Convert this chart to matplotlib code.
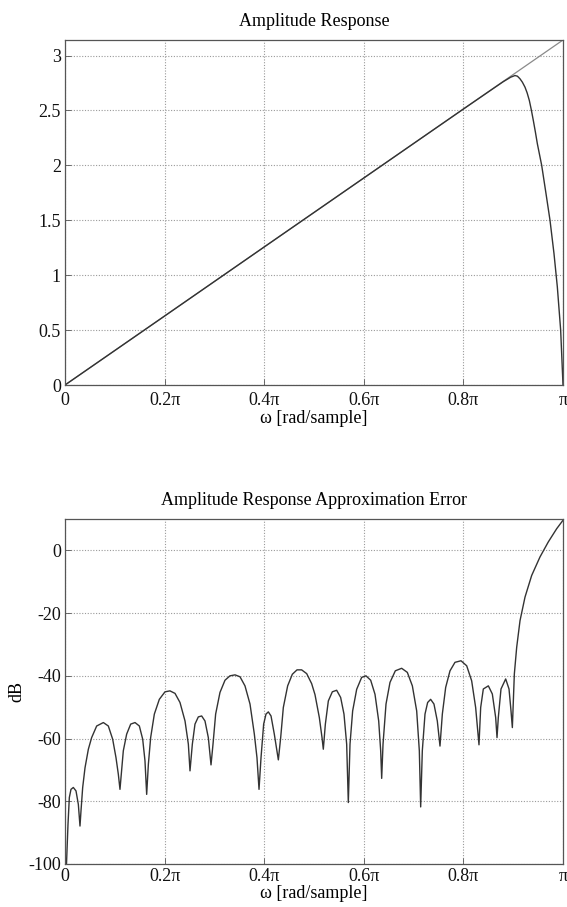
import matplotlib
matplotlib.use("Agg")
import matplotlib.pyplot as plt

plt.rcParams['font.family'] = ['Liberation Serif', 'DejaVu Serif']

# ---------------- data (omega in units of pi) ----------------
ideal_w = [0.0, 1.0]
ideal_a = [0.0, 3.1416]

resp_w = [0.0, 0.2, 0.4, 0.6, 0.8, 0.86, 0.88, 0.895, 0.9036, 0.9085, 0.9137,
          0.9185, 0.9237, 0.9280, 0.9324, 0.9364, 0.9404, 0.9445, 0.9485,
          0.9572, 0.9659, 0.9739, 0.9819, 0.9886, 0.9953, 0.9993, 1.0]
resp_a = [0.0, 0.628, 1.257, 1.885, 2.513, 2.700, 2.762, 2.803, 2.818, 2.812,
          2.788, 2.757, 2.712, 2.660, 2.591, 2.505, 2.409, 2.305, 2.197,
          2.000, 1.742, 1.500, 1.197, 0.894, 0.500, 0.076, 0.0]

err_w = [0.003, 0.006, 0.0087, 0.012, 0.0167, 0.0221, 0.0268, 0.0301, 0.0321,
         0.0355, 0.0402, 0.0469, 0.0535, 0.0636, 0.0770, 0.0870, 0.0957, 0.1024,
         0.1071, 0.1104, 0.1131, 0.1171, 0.1238, 0.1319, 0.1406, 0.1493, 0.1560,
         0.1606, 0.1640, 0.1674, 0.1720, 0.1794, 0.1894, 0.2008, 0.2108, 0.2209,
         0.2309, 0.2410, 0.2477, 0.2510, 0.2557, 0.2610, 0.2677, 0.2744, 0.2811,
         0.2878, 0.2932, 0.2972, 0.3025, 0.3112, 0.3213, 0.3313, 0.3414, 0.3514,
         0.3614, 0.3715, 0.3802, 0.3855, 0.3896, 0.3936, 0.3989, 0.4036, 0.4083,
         0.4137, 0.4203, 0.4284, 0.4331, 0.4384, 0.4471, 0.4565, 0.4659, 0.4752,
         0.4853, 0.4953, 0.5020, 0.5107, 0.5161, 0.5187, 0.5228, 0.5288, 0.5368,
         0.5455, 0.5535, 0.5602, 0.5656, 0.5689, 0.5723, 0.5776, 0.5857, 0.5957,
         0.6044, 0.6138, 0.6225, 0.6299, 0.6339, 0.6359, 0.6386, 0.6446, 0.6526,
         0.6633, 0.6760, 0.6874, 0.6975, 0.7062, 0.7115, 0.7142, 0.7175, 0.7229,
         0.7282, 0.7342, 0.7409, 0.7476, 0.7530, 0.7577, 0.7644, 0.7731, 0.7831,
         0.7952, 0.8066, 0.8166, 0.8246, 0.8313, 0.8347, 0.8400, 0.8501, 0.8581,
         0.8648, 0.8675, 0.8701, 0.8755, 0.8849, 0.8916, 0.8956, 0.8983, 0.9009,
         0.9023, 0.9070, 0.9137, 0.9237, 0.9371, 0.9538, 0.9705, 0.9873, 1.0]
err_db = [-100.0, -87.4, -78.8, -76.2, -75.6, -76.7, -81.0, -87.9, -83.1,
          -75.6, -69.3, -63.4, -59.7, -56.0, -54.9, -56.0, -60.2, -66.1,
          -71.4, -76.2, -71.4, -63.9, -58.6, -55.4, -54.9, -56.0, -60.2,
          -67.1, -77.8, -68.2, -59.7, -52.2, -47.5, -45.1, -44.8, -45.6,
          -48.5, -54.4, -61.8, -70.3, -61.8, -55.4, -53.1, -52.8, -54.4,
          -59.7, -68.4, -61.8, -52.2, -45.3, -41.4, -40.0, -39.7, -40.3,
          -43.2, -49.0, -58.6, -66.1, -76.2, -66.1, -55.4, -52.2, -51.5,
          -52.8, -58.6, -66.8, -59.7, -50.1, -43.2, -39.5, -38.1, -38.1,
          -39.3, -42.5, -46.0, -53.3, -59.7, -63.4, -55.4, -48.0, -45.1,
          -44.6, -46.9, -52.2, -61.8, -80.4, -61.8, -51.2, -44.3, -40.5,
          -40.0, -41.4, -45.9, -54.4, -63.9, -72.7, -61.8, -49.0, -42.1,
          -38.4, -37.6, -38.9, -43.2, -51.2, -63.9, -81.8, -63.9, -52.2,
          -48.5, -47.5, -49.0, -54.4, -62.4, -52.2, -43.7, -38.4, -35.7,
          -35.2, -36.8, -41.6, -50.1, -62.0, -50.1, -44.2, -43.2, -45.8,
          -53.3, -59.7, -53.3, -44.2, -41.0, -44.2, -51.2, -56.5, -45.8,
          -39.4, -30.9, -22.4, -14.9, -8.0, -2.1, 2.7, 6.9, 9.6]

x_ticks = [0, 0.2, 0.4, 0.6, 0.8, 1.0]
x_ticklabels = ['0', '0.2π', '0.4π', '0.6π', '0.8π', 'π']
top_yticks = [0, 0.5, 1, 1.5, 2, 2.5, 3]
top_yticklabels = ['0', '0.5', '1', '1.5', '2', '2.5', '3']
bot_yticks = [-100, -80, -60, -40, -20, 0]
bot_yticklabels = ['-100', '-80', '-60', '-40', '-20', '0']

# ---------------- figure ----------------
W, H = 567, 907
fig = plt.figure(figsize=(W / 100, H / 100), dpi=100)

L = 65 / W
AW = (563 - 65) / W
AH = 345 / H
ax1 = fig.add_axes([L, 1 - 385 / H, AW, AH])
ax2 = fig.add_axes([L, 1 - 864 / H, AW, AH])

FS = 13
curve_col = '#333333'

def style(ax, xpad):
    ax.grid(True, linestyle=(0, (1, 1.5)), color='#9a9a9a', linewidth=0.8)
    for s in ax.spines.values():
        s.set_color('#555555')
        s.set_linewidth(0.9)
    ax.tick_params(direction='in', length=4, width=0.6, colors='#555555',
                   labelcolor='#111111', labelsize=FS)
    ax.tick_params(axis='x', pad=xpad)
    ax.tick_params(axis='y', pad=3)
    ax.set_xticks(x_ticks)
    ax.set_xticklabels(x_ticklabels)
    ax.set_xlim(0, 1)
    ax.set_axisbelow(True)

style(ax1, 5)
ax1.plot(ideal_w, ideal_a, color='#8a8a8a', linewidth=0.9)
ax1.plot(resp_w, resp_a, color=curve_col, linewidth=1.0)
ax1.set_ylim(0, 3.1416)
ax1.set_yticks(top_yticks)
ax1.set_yticklabels(top_yticklabels)
ax1.set_title('Amplitude Response', fontsize=FS, pad=10)
ax1.set_xlabel('ω [rad/sample]', fontsize=FS, labelpad=1)

style(ax2, 3)
ax2.plot(err_w, err_db, color=curve_col, linewidth=1.0)
ax2.set_ylim(-100, 10)
ax2.set_yticks(bot_yticks)
ax2.set_yticklabels(bot_yticklabels)
ax2.set_title('Amplitude Response Approximation Error', fontsize=FS, pad=10)
ax2.set_xlabel('ω [rad/sample]', fontsize=FS, labelpad=0)
ax2.set_ylabel('dB', fontsize=FS, labelpad=2)

fig.savefig('out.png', dpi=100)
